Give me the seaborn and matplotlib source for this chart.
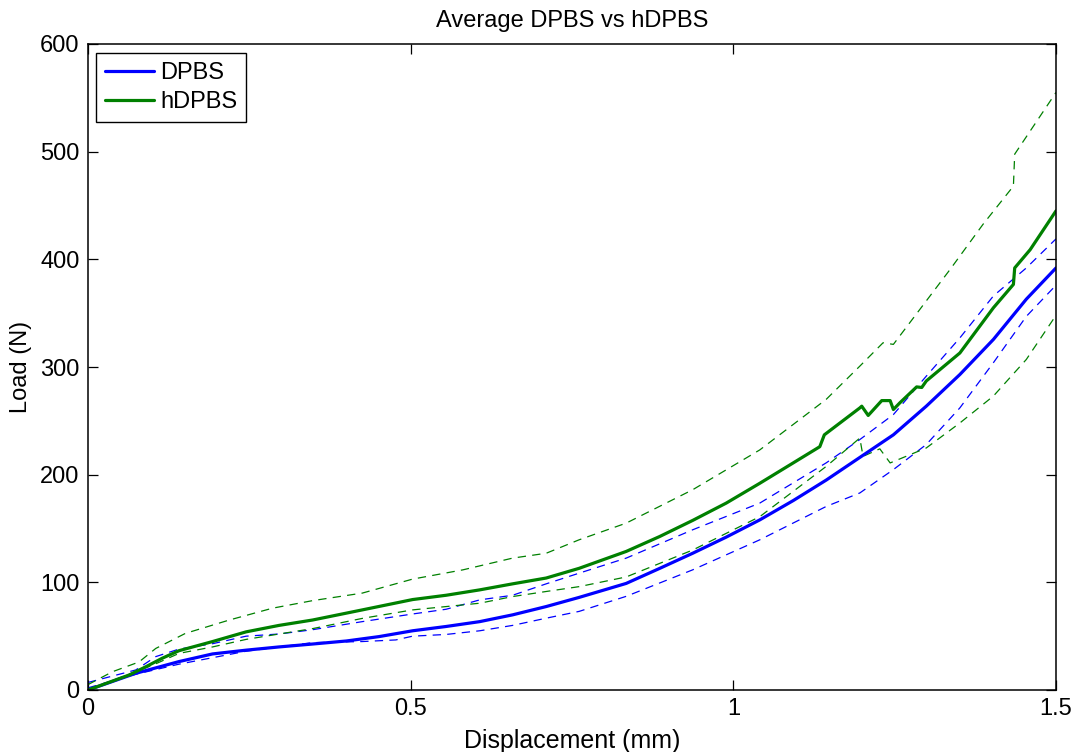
import numpy as np
import pandas as pd
import matplotlib
matplotlib.use("Agg")
import matplotlib.pyplot as plt
import seaborn as sns

# ---- data ----
dpbs_x = [0, 0.074, 0.141, 0.193, 0.245, 0.296, 0.348, 0.4, 0.451, 0.503, 0.555, 0.607,
          0.658, 0.71, 0.761, 0.834, 0.886, 0.937, 0.989, 1.041, 1.093, 1.144, 1.196,
          1.248, 1.299, 1.351, 1.403, 1.454, 1.5]
dpbs_y = [0, 15.5, 26.4, 33.5, 37, 40, 42.7, 45.5, 49.6, 55, 59, 63.5,
          69.8, 77.5, 86, 99, 113, 127, 142, 158, 176, 195, 216,
          237, 263.6, 293, 325.6, 363, 392]

hdpbs_x = [0, 0.064, 0.09, 0.115, 0.141, 0.193, 0.245, 0.296, 0.348, 0.425, 0.503, 0.555,
           0.607, 0.658, 0.71, 0.761, 0.834, 0.886, 0.937, 0.989, 1.041, 1.093, 1.134,
           1.141, 1.196, 1.199, 1.209, 1.23, 1.243, 1.248, 1.258, 1.284, 1.292, 1.299,
           1.351, 1.403, 1.434, 1.436, 1.46, 1.5]
hdpbs_y = [0, 14, 21.7, 29.5, 36.5, 45, 54, 60, 65, 74.4, 84, 88,
           93, 98.6, 104, 113, 128.7, 142.6, 157.5, 173.6, 192, 211, 226,
           237, 262, 263.6, 255, 268.8, 268.8, 260.5, 266.7, 281.5, 281, 287,
           313, 355, 376.7, 392, 409, 445]

hdpbs_hi_x = [0, 0.038, 0.079, 0.105, 0.151, 0.219, 0.286, 0.348, 0.425, 0.503, 0.581,
              0.658, 0.71, 0.761, 0.834, 0.937, 1.041, 1.144, 1.196, 1.232, 1.248,
              1.336, 1.387, 1.434, 1.436, 1.5]
hdpbs_hi_y = [5, 17, 26, 38.6, 52.6, 65, 76, 83, 90, 103, 111.6,
              122.5, 127, 139.5, 155, 186, 223, 270, 300.8, 322.5, 321,
              390.7, 432.6, 468, 497.7, 555]

hdpbs_lo_x = [0, 0.1, 0.141, 0.193, 0.245, 0.296, 0.348, 0.425, 0.503, 0.555, 0.607,
              0.658, 0.71, 0.761, 0.834, 0.937, 1.041, 1.144, 1.196, 1.201, 1.227,
              1.243, 1.299, 1.351, 1.403, 1.454, 1.5]
hdpbs_lo_y = [0, 23, 34, 40, 47, 52, 57, 66.5, 74.4, 77.5, 80.6,
              86.8, 91.5, 96, 105, 130, 161, 207.7, 234, 217, 224,
              210.9, 224.8, 248, 273, 307, 348]

dpbs_hi_x = [0, 0.074, 0.105, 0.141, 0.193, 0.245, 0.296, 0.348, 0.425, 0.503, 0.555,
             0.607, 0.658, 0.71, 0.761, 0.834, 0.937, 1.041, 1.144, 1.196, 1.248,
             1.299, 1.351, 1.403, 1.454, 1.5]
dpbs_hi_y = [7, 18.6, 31, 38, 43, 50, 52, 56, 63.5, 70.6, 75,
             83.7, 88, 98.6, 108.5, 122.5, 148.8, 173.6, 211, 232.6, 255.8,
             291.5, 327, 366, 392, 419]

dpbs_lo_x = [0, 0.074, 0.141, 0.193, 0.245, 0.296, 0.348, 0.425, 0.477, 0.503, 0.555,
             0.607, 0.658, 0.71, 0.761, 0.834, 0.937, 1.041, 1.144, 1.196, 1.248,
             1.299, 1.351, 1.403, 1.454, 1.5]
dpbs_lo_y = [2, 14.6, 24, 30, 36, 40, 44, 45, 46.5, 50, 51.6,
             55, 60, 66.7, 73, 87, 111.6, 139.5, 170.5, 183, 204.7,
             228, 262, 304, 347, 376]

x_ticks = [0, 0.5, 1, 1.5]
x_tick_labels = ["0", "0.5", "1", "1.5"]
y_ticks = [0, 100, 200, 300, 400, 500, 600]

BLUE = (0, 0, 1)
GREEN = (0, 0.5, 0)

sns.set_style("ticks")
plt.rcParams["font.family"] = ["Liberation Sans", "DejaVu Sans"]
plt.rcParams["lines.scale_dashes"] = False
plt.rcParams["text.color"] = "black"
plt.rcParams["axes.labelcolor"] = "black"

fig = plt.figure(figsize=(10.77, 7.52), dpi=100)
ax = fig.add_axes([88 / 1077, 62 / 752, (1056 - 88) / 1077, (690 - 44) / 752])

def df(x, y):
    return pd.DataFrame({"x": x, "y": y})

dash = (6, 4.5)
for xs, ys, col in [(dpbs_hi_x, dpbs_hi_y, BLUE), (dpbs_lo_x, dpbs_lo_y, BLUE),
                    (hdpbs_hi_x, hdpbs_hi_y, GREEN), (hdpbs_lo_x, hdpbs_lo_y, GREEN)]:
    sns.lineplot(data=df(xs, ys), x="x", y="y", ax=ax, color=col, linewidth=0.9,
                 linestyle=(0, dash), estimator=None, sort=False)

sns.lineplot(data=df(dpbs_x, dpbs_y), x="x", y="y", ax=ax, color=BLUE, linewidth=2.3,
             estimator=None, sort=False, label="DPBS")
sns.lineplot(data=df(hdpbs_x, hdpbs_y), x="x", y="y", ax=ax, color=GREEN, linewidth=2.3,
             estimator=None, sort=False, label="hDPBS")

ax.set_xlim(0, 1.5)
ax.set_ylim(0, 600)
ax.set_xticks(x_ticks)
ax.set_xticklabels(x_tick_labels)
ax.set_yticks(y_ticks)
ax.tick_params(direction="in", length=7, width=0.9, labelsize=17, top=True, right=True,
               colors="black", labelcolor="black", pad=6)
for s in ax.spines.values():
    s.set_visible(True)
    s.set_linewidth(1.1)
    s.set_color("black")

ax.set_xlabel("Displacement (mm)", fontsize=18, labelpad=6, color="black")
ax.set_ylabel("Load (N)", fontsize=17, labelpad=6, color="black")
ax.set_title("Average DPBS vs hDPBS", fontsize=17, pad=12, color="black")

leg = ax.legend(loc="upper left", bbox_to_anchor=(0.008, 0.986), fontsize=17,
                frameon=True, fancybox=False, edgecolor="black", framealpha=1,
                handlelength=2.1, handletextpad=0.25, borderpad=0.38, labelspacing=0.3,
                borderaxespad=0)
leg.get_frame().set_linewidth(1.0)
for t in leg.get_texts():
    t.set_color("black")

fig.savefig("out.png", dpi=100)
